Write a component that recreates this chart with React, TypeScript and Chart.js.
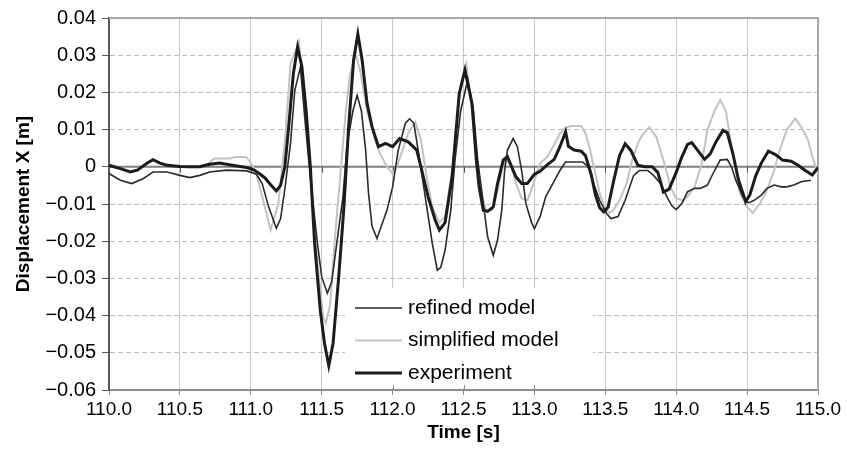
import React, { useEffect, useRef } from 'react';
import { Chart, registerables } from 'chart.js';

Chart.register(...registerables);

// ---- Data (time in s, displacement in m) ----
const expT = [
  110.0, 110.08, 110.15, 110.2, 110.27, 110.31, 110.36, 110.41, 110.5, 110.57, 110.64, 110.71, 110.78, 110.87, 110.97,
  111.02, 111.06, 111.1, 111.14, 111.18, 111.21, 111.24, 111.27, 111.3, 111.33, 111.36, 111.39, 111.42, 111.45, 111.49,
  111.52, 111.55, 111.58, 111.62, 111.655, 111.69, 111.725, 111.755, 111.785, 111.82, 111.855, 111.9, 111.95, 112.0,
  112.05, 112.11, 112.17, 112.2, 112.25, 112.3, 112.33, 112.37, 112.42, 112.47, 112.51, 112.56, 112.59, 112.61, 112.64,
  112.67, 112.71, 112.74, 112.78, 112.81, 112.84, 112.87, 112.91, 112.95, 113.0, 113.04, 113.09, 113.14, 113.18, 113.22,
  113.24, 113.28, 113.33, 113.36, 113.4, 113.43, 113.46, 113.49, 113.52, 113.56, 113.6, 113.64, 113.68, 113.73, 113.78,
  113.83, 113.87, 113.91, 113.95, 114.0, 114.04, 114.08, 114.11, 114.15, 114.2, 114.24, 114.28, 114.33, 114.36, 114.4,
  114.44, 114.49, 114.52, 114.56, 114.6, 114.65, 114.7, 114.75, 114.81, 114.86, 114.91, 114.96, 115.0,
];
const expV = [
  0.0004, -0.0005, -0.0014, -0.0009, 0.001, 0.0019, 0.001, 0.0004, 0.0001, 0.0, 0.0, 0.0007, 0.001, 0.0004, -0.0002,
  -0.0008, -0.0018, -0.003, -0.0048, -0.0065, -0.005, 0.0, 0.012, 0.025, 0.0322, 0.027, 0.0152, 0.0, -0.0206, -0.0386,
  -0.0475, -0.0535, -0.0475, -0.0296, -0.0117, 0.0108, 0.0287, 0.0357, 0.0287, 0.017, 0.0108, 0.0054, 0.0063, 0.0054,
  0.0076, 0.0067, 0.0045, 0.0, -0.008, -0.0143, -0.017, -0.015, -0.0027, 0.0197, 0.026, 0.017, 0.002, -0.0054, -0.0117,
  -0.012, -0.0108, -0.0045, 0.0018, 0.0027, 0.0, -0.0027, -0.0045, -0.0045, -0.002, -0.0012, 0.0005, 0.002, 0.0054, 0.0094,
  0.0055, 0.0045, 0.0042, 0.003, -0.002, -0.0075, -0.011, -0.0121, -0.0108, -0.0036, 0.003, 0.0062, 0.0044, 0.0004, 0.0,
  0.0, -0.0015, -0.0068, -0.006, -0.0015, 0.0027, 0.006, 0.0065, 0.0045, 0.002, 0.0035, 0.0067, 0.0098, 0.0092, 0.0035,
  -0.0036, -0.0094, -0.0075, -0.0025, 0.001, 0.0042, 0.0033, 0.0018, 0.0015, 0.0004, -0.001, -0.0022, -0.0002,
];

const refT = [
  110.0, 110.08, 110.16, 110.24, 110.31, 110.41, 110.5, 110.57, 110.64, 110.71, 110.83, 110.97, 111.04, 111.08, 111.125,
  111.18, 111.21, 111.24, 111.28, 111.31, 111.35, 111.38, 111.42, 111.47, 111.5, 111.54, 111.57, 111.6, 111.65, 111.68,
  111.72, 111.75, 111.78, 111.81, 111.83, 111.855, 111.89, 111.92, 111.96, 112.0, 112.04, 112.09, 112.12, 112.15, 112.18,
  112.23, 112.28, 112.315, 112.34, 112.37, 112.41, 112.44, 112.48, 112.53, 112.57, 112.6, 112.64, 112.67, 112.71, 112.74,
  112.77, 112.79, 112.81, 112.85, 112.88, 112.91, 112.94, 112.98, 113.0, 113.04, 113.08, 113.13, 113.18, 113.22, 113.28,
  113.34, 113.38, 113.41, 113.46, 113.51, 113.54, 113.59, 113.64, 113.7, 113.74, 113.8, 113.84, 113.89, 113.94, 113.97,
  114.0, 114.04, 114.08, 114.13, 114.17, 114.22, 114.26, 114.31, 114.36, 114.39, 114.42, 114.47, 114.51, 114.55, 114.6,
  114.64, 114.69, 114.74, 114.78, 114.83, 114.88, 114.95,
];
const refV = [
  -0.0018, -0.0036, -0.0045, -0.0032, -0.0014, -0.0014, -0.0023, -0.0029, -0.0023, -0.0014, -0.0009, -0.0011, -0.002,
  -0.0045, -0.0107, -0.0165, -0.014, -0.006, 0.0063, 0.0205, 0.0268, 0.0134, -0.003, -0.0206, -0.0296, -0.034, -0.031,
  -0.0224, -0.008, 0.0063, 0.015, 0.0192, 0.015, 0.0045, -0.007, -0.016, -0.0193, -0.016, -0.0117, -0.0054, 0.0045,
  0.0117, 0.0129, 0.0117, 0.0045, -0.008, -0.0206, -0.0278, -0.027, -0.0224, -0.0117, 0.0018, 0.015, 0.0235, 0.0152,
  0.0018, -0.0099, -0.0188, -0.0238, -0.0197, -0.0117, -0.001, 0.0045, 0.0076, 0.0054, -0.001, -0.0099, -0.015, -0.0166,
  -0.0134, -0.008, -0.0045, -0.001, 0.0013, 0.0013, 0.0013, 0.0, -0.0036, -0.009, -0.0126, -0.0139, -0.0134, -0.009,
  -0.0023, -0.001, -0.001, -0.0023, -0.0045, -0.0085, -0.0105, -0.0115, -0.0099, -0.0067, -0.0058, -0.0058, -0.0049,
  -0.0018, 0.0018, 0.002, 0.0, -0.0036, -0.008, -0.0097, -0.009, -0.0076, -0.0058, -0.0049, -0.0054, -0.0054, -0.0049,
  -0.004, -0.0036,
];

const simT = [
  110.0, 110.08, 110.15, 110.2, 110.27, 110.31, 110.36, 110.45, 110.55, 110.64, 110.7, 110.74, 110.85, 110.9, 110.97,
  111.01, 111.04, 111.08, 111.14, 111.195, 111.243, 111.28, 111.34, 111.37, 111.41, 111.44, 111.48, 111.51, 111.53,
  111.56, 111.59, 111.63, 111.67, 111.7, 111.74, 111.77, 111.82, 111.87, 111.91, 111.96, 112.0, 112.03, 112.07, 112.11,
  112.16, 112.2, 112.24, 112.28, 112.33, 112.37, 112.42, 112.47, 112.52, 112.56, 112.6, 112.63, 112.66, 112.7, 112.74,
  112.77, 112.8, 112.84, 112.87, 112.91, 112.95, 112.99, 113.04, 113.09, 113.14, 113.18, 113.22, 113.26, 113.33, 113.36,
  113.39, 113.43, 113.46, 113.49, 113.53, 113.56, 113.6, 113.65, 113.69, 113.73, 113.76, 113.81, 113.86, 113.91, 113.96,
  114.0, 114.05, 114.08, 114.13, 114.18, 114.22, 114.27, 114.31, 114.35, 114.38, 114.42, 114.45, 114.5, 114.54, 114.59,
  114.64, 114.69, 114.73, 114.78, 114.84, 114.88, 114.93, 114.96, 115.0,
];
const simV = [
  0.0004, -0.0005, -0.0012, -0.0008, 0.001, 0.0018, 0.001, 0.0003, 0.0, 0.0002, 0.0008, 0.0022, 0.0022, 0.0027, 0.0026,
  0.0005, -0.002, -0.008, -0.017, -0.0098, 0.008, 0.0277, 0.0337, 0.0197, 0.0036, -0.0134, -0.0296, -0.0404, -0.042,
  -0.0368, -0.0206, -0.0027, 0.015, 0.025, 0.0303, 0.026, 0.015, 0.008, 0.0036, 0.0, -0.0018, 0.0, 0.0045, 0.009,
  0.012, 0.0072, -0.0027, -0.0108, -0.015, -0.0134, -0.001, 0.019, 0.0276, 0.015, 0.001, -0.008, -0.0117, -0.0117,
  -0.0063, -0.001, 0.0022, 0.0, -0.0045, -0.0085, -0.009, -0.005, 0.001, 0.0026, 0.006, 0.0089, 0.0105, 0.011, 0.011,
  0.009, 0.005, -0.0018, -0.007, -0.0105, -0.0125, -0.0115, -0.009, -0.0045, 0.0018, 0.0063, 0.0085, 0.0106, 0.008,
  0.0018, -0.0054, -0.0085, -0.009, -0.008, -0.0054, 0.0009, 0.0099, 0.015, 0.018, 0.015, 0.008, -0.001, -0.0072,
  -0.0108, -0.0124, -0.0099, -0.0063, -0.001, 0.0045, 0.0099, 0.013, 0.0108, 0.0072, 0.0027, -0.002,
];

const xTickValues = [110, 110.5, 111, 111.5, 112, 112.5, 113, 113.5, 114, 114.5, 115];
const yTickValues = [-0.06, -0.05, -0.04, -0.03, -0.02, -0.01, 0, 0.01, 0.02, 0.03, 0.04];

const seriesLabels = ['refined model', 'simplified model', 'experiment'];

const FONT = '"Liberation Sans", Arial, Helvetica, sans-serif';
const X_TICK_SIZE = 19;
const Y_TICK_SIZE = 20;
const TITLE_SIZE = 19;
const LEGEND_SIZE = 21;

const toPoints = (t: number[], v: number[]) => t.map((x, i) => ({ x, y: v[i] }));

const fmtY = (val: number) => {
  const v = Math.round(val * 100) / 100;
  if (v === 0) return '0';
  const s = Math.abs(v).toFixed(2);
  return v < 0 ? '\u2212' + s : s;
};

const decorPlugin = {
  id: 'decor',
  beforeDatasetsDraw(chart: any) {
    const { ctx, chartArea: a, scales } = chart;
    const xs = scales.x;
    const ys = scales.y;
    const line = (x1: number, y1: number, x2: number, y2: number) => {
      ctx.beginPath();
      ctx.moveTo(x1, y1);
      ctx.lineTo(x2, y2);
      ctx.stroke();
    };
    ctx.save();
    ctx.setLineDash([]);
    // zero line
    const y0 = ys.getPixelForValue(0);
    ctx.strokeStyle = '#7f7f7f';
    ctx.lineWidth = 2;
    line(a.left, y0, a.right, y0);
    ctx.lineWidth = 1;
    ctx.strokeStyle = '#555';
    xTickValues.forEach((v) => {
      const px = Math.round(xs.getPixelForValue(v)) + 0.5;
      line(px, y0, px, y0 + 6);
    });
    // top and right frame
    ctx.strokeStyle = '#a8a8a8';
    ctx.lineWidth = 2;
    line(a.left, a.top, a.right + 1, a.top);
    line(a.right, a.top, a.right, a.bottom);

    // legend box
    const bl = a.left + 236;
    const br = a.left + 484;
    const bt = a.top + 270;
    const bb = a.bottom - 2;
    ctx.fillStyle = '#ffffff';
    ctx.fillRect(bl, bt, br - bl, bb - bt);
    // inner tick marks on bottom axis inside the box
    ctx.strokeStyle = '#8c8c8c';
    ctx.lineWidth = 1;
    xTickValues.forEach((v) => {
      const px = Math.round(xs.getPixelForValue(v)) + 0.5;
      if (px > bl && px < br) line(px, a.bottom, px, a.bottom - 5);
    });
    // legend items
    const ds = chart.data.datasets;
    const rows = [bt + 20, bt + 52.5, bt + 85];
    ctx.font = `${LEGEND_SIZE}px ${FONT}`;
    ctx.textBaseline = 'middle';
    ctx.textAlign = 'left';
    seriesLabels.forEach((lab, i) => {
      const d = ds.find((q: any) => q.label === lab);
      if (!d) return;
      const ry = rows[i];
      ctx.strokeStyle = d.borderColor;
      ctx.lineWidth = d.borderWidth;
      line(bl + 10, ry, bl + 57, ry);
      ctx.fillStyle = '#000';
      ctx.fillText(lab, bl + 63, ry);
    });
    ctx.restore();
  },
};

export default function App() {
  const canvasRef = useRef<HTMLCanvasElement | null>(null);

  useEffect(() => {
    document.body.style.margin = '0';
    const canvas = canvasRef.current;
    if (!canvas) return;
    const chart = new Chart(canvas, {
      type: 'line',
      data: {
        datasets: [
          {
            label: 'experiment',
            data: toPoints(expT, expV),
            borderColor: '#1c1c1c',
            borderWidth: 3,
            pointRadius: 0,
            tension: 0,
            fill: false,
          },
          {
            label: 'refined model',
            data: toPoints(refT, refV),
            borderColor: '#2a2a2a',
            borderWidth: 1.6,
            pointRadius: 0,
            tension: 0,
            fill: false,
          },
          {
            label: 'simplified model',
            data: toPoints(simT, simV),
            borderColor: '#c2c2c2',
            borderWidth: 2,
            pointRadius: 0,
            tension: 0,
            fill: false,
          },
        ],
      },
      options: {
        animation: false,
        responsive: false,
        maintainAspectRatio: false,
        layout: { padding: { left: 0, top: 17, right: 29, bottom: 0 } },
        plugins: {
          legend: { display: false },
          tooltip: { enabled: false },
        },
        scales: {
          x: {
            type: 'linear',
            min: 110,
            max: 115,
            afterFit: (s: any) => {
              s.height = 60;
            },
            afterBuildTicks: (s: any) => {
              s.ticks = xTickValues.map((v) => ({ value: v }));
            },
            ticks: {
              autoSkip: false,
              maxRotation: 0,
              padding: 3,
              color: '#000',
              font: { family: FONT, size: X_TICK_SIZE },
              callback: (v: any) => Number(v).toFixed(1),
            },
            grid: {
              color: '#c6c6c6',
              lineWidth: 1,
              tickLength: 5,
              tickColor: '#8c8c8c',
            },
            border: { display: true, color: '#8c8c8c', width: 2 },
            title: {
              display: true,
              text: 'Time [s]',
              color: '#000',
              font: { family: FONT, size: TITLE_SIZE, weight: 'bold' },
              padding: { top: 0, bottom: 6 },
            },
          },
          y: {
            type: 'linear',
            min: -0.06,
            max: 0.04,
            afterFit: (s: any) => {
              s.width = 109;
            },
            afterBuildTicks: (s: any) => {
              s.ticks = yTickValues.map((v) => ({ value: v }));
            },
            ticks: {
              autoSkip: false,
              padding: 6,
              color: '#000',
              font: { family: FONT, size: Y_TICK_SIZE },
              callback: (v: any) => fmtY(Number(v)),
            },
            grid: {
              color: (c: any) => (c.tick && Math.abs(c.tick.value) < 1e-9 ? 'rgba(0,0,0,0)' : '#bdbdbd'),
              lineWidth: 1,
              tickLength: 7,
              tickColor: '#5a5a5a',
              tickBorderDash: [],
            },
            border: { display: true, color: '#5a5a5a', width: 2, dash: [5, 3] },
            title: {
              display: true,
              text: 'Displacement X [m]',
              color: '#000',
              font: { family: FONT, size: TITLE_SIZE, weight: 'bold' },
              padding: { top: 12, bottom: 0 },
            },
          },
        },
      },
      plugins: [decorPlugin],
    } as any);
    return () => {
      chart.destroy();
    };
  }, []);

  return (
    <div style={{ width: 847, height: 450, background: '#fff' }}>
      <canvas ref={canvasRef} width={847} height={450} style={{ display: 'block' }} />
    </div>
  );
}
